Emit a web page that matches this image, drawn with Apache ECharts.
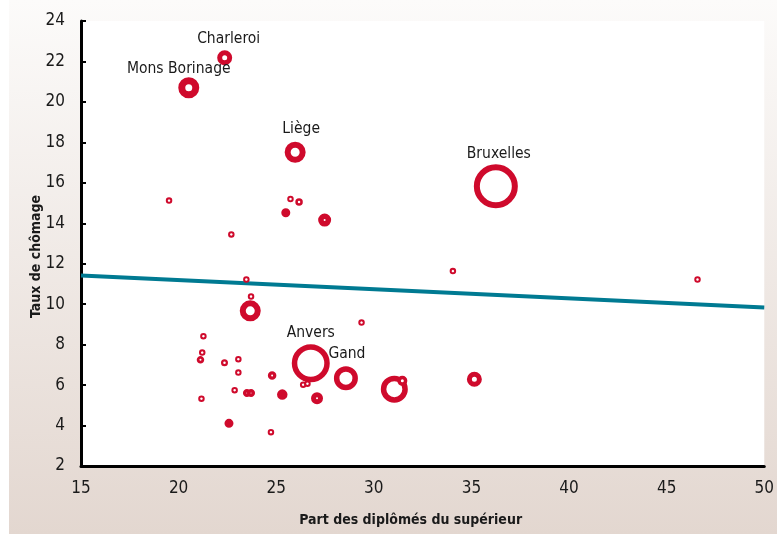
<!DOCTYPE html>
<html>
<head>
<meta charset="utf-8">
<script src="https://cdn.jsdelivr.net/npm/echarts@6/dist/echarts.min.js"></script>
<style>
html, body { margin: 0; padding: 0; background: #fff; }
#chart {
  width: 777px; height: 534px;
  background: linear-gradient(to right, #fff 9px, transparent 9px),
              linear-gradient(to bottom, #fcfbfa 0%, #e3d7d0 100%);
}
</style>
</head>
<body>
<div id="chart"></div>
<script>
// arrondissements : part des diplomes du superieur / taux de chomage
const noms = ['Charleroi', 'Mons Borinage', 'Liège', 'Bruxelles', 'Anvers', 'Gand',
  '', '', '', '', '', '', '', '', '', '', '', '', '', '', '', '', '', '', '', '',
  '', '', '', '', '', '', '', '', '', '', '', ''];
const partDiplomes = [22.36, 20.52, 25.97, 36.25, 26.77, 28.57,
  31.05, 31.46, 35.15, 23.67, 27.48, 25.49, 19.51, 25.73, 26.17, 22.7, 23.47, 23.71,
  34.05, 46.58, 29.37, 21.27, 21.21, 21.12, 22.35, 23.06, 23.06, 24.79, 22.87, 23.5,
  23.71, 25.31, 21.17, 22.58, 24.73, 26.38, 26.6, 27.09];
const tauxChomage = [22.18, 20.7, 17.51, 15.83, 7.08, 6.34,
  5.8, 6.21, 6.29, 9.67, 14.16, 14.52, 15.12, 15.2, 15.05, 13.45, 11.22, 10.38,
  11.64, 11.22, 9.09, 8.42, 7.61, 7.25, 7.1, 7.28, 6.62, 6.47, 5.75, 5.61,
  5.61, 5.53, 5.33, 4.11, 3.67, 6.02, 6.07, 5.35];
// taille du cercle et taille du creux
const taille = [15, 21, 21, 44, 38, 24,
  27, 10, 15, 21, 13, 9, 6.5, 6.5, 7.5, 6.5, 6.5, 6.5,
  6.5, 6.5, 6.5, 6.5, 6.5, 7.5, 7, 6.5, 6.5, 8.5, 6.5, 8,
  8, 10.5, 6.5, 9, 6.5, 6.5, 6.5, 12];
const creux = [5, 7, 9, 32, 27, 13,
  16, 3, 5, 9, 2, 0, 2.5, 2.5, 2.5, 2.5, 2.5, 2.5,
  2.5, 2.5, 2.5, 2.5, 2.5, 2, 2.5, 2.5, 2.5, 2, 2.5, 1,
  1, 0, 2.5, 0, 2.5, 2.5, 2.5, 2];
const tendanceX = [15, 50];
const tendanceY = [11.42, 9.84];

const police = "'Liberation Sans Narrow', 'DejaVu Sans Condensed', sans-serif";
const rouge = '#cf0a2c';
const decalages = {
  'Charleroi': [4, -19], 'Mons Borinage': [-10, -19], 'Liège': [6, -23],
  'Bruxelles': [3, -32], 'Anvers': [0, -30], 'Gand': [1, -24]
};

const points = partDiplomes.map(function (x, i) {
  const item = {
    name: noms[i],
    value: [x, tauxChomage[i], taille[i], creux[i]],
    itemStyle: { borderWidth: (taille[i] - creux[i]) / 2 }
  };
  if (noms[i]) {
    item.label = { show: true, formatter: '{b}', position: 'inside', offset: decalages[noms[i]] };
  }
  return item;
});

const chart = echarts.init(document.getElementById('chart'));
chart.setOption({
  backgroundColor: 'transparent',
  animation: false,
  grid: { left: 81, right: 10, top: 21, bottom: 68, show: true, backgroundColor: '#fff', borderWidth: 0 },
  xAxis: {
    type: 'value', min: 15, max: 50, interval: 5,
    name: 'Part des diplômés du supérieur', nameLocation: 'middle', nameGap: 47,
    nameMoveOverlap: false,
    nameTextStyle: { fontFamily: police, fontSize: 14, fontWeight: 'bold', color: '#1a1a1a', padding: [0, 24, 0, 0] },
    axisLine: { show: true, lineStyle: { color: '#000', width: 3 } },
    axisTick: { show: false },
    axisLabel: { fontFamily: police, fontSize: 17, color: '#1a1a1a', margin: 14 },
    splitLine: { show: false }
  },
  yAxis: {
    type: 'value', min: 2, max: 24, interval: 2,
    name: 'Taux de chômage', nameLocation: 'middle', nameGap: 38,
    nameMoveOverlap: false,
    nameTextStyle: { fontFamily: police, fontSize: 14, fontWeight: 'bold', color: '#1a1a1a', padding: [0, 26, 0, 0] },
    axisLine: { show: true, lineStyle: { color: '#000', width: 3 } },
    axisTick: { show: true, inside: true, length: 5, lineStyle: { color: '#000', width: 2 } },
    axisLabel: { fontFamily: police, fontSize: 17, color: '#1a1a1a', margin: 16 },
    splitLine: { show: false }
  },
  series: [
    {
      type: 'line',
      data: tendanceX.map(function (x, i) { return [x, tendanceY[i]]; }),
      symbol: 'none',
      lineStyle: { color: '#007a92', width: 4 },
      z: 1
    },
    {
      type: 'scatter',
      data: points,
      symbol: 'circle',
      symbolSize: function (v) { return (v[2] + v[3]) / 2; },
      itemStyle: { color: '#fff', borderColor: rouge, opacity: 1 },
      label: { fontFamily: police, fontSize: 15.5, color: '#1a1a1a' },
      z: 3
    }
  ]
});
</script>
</body>
</html>
